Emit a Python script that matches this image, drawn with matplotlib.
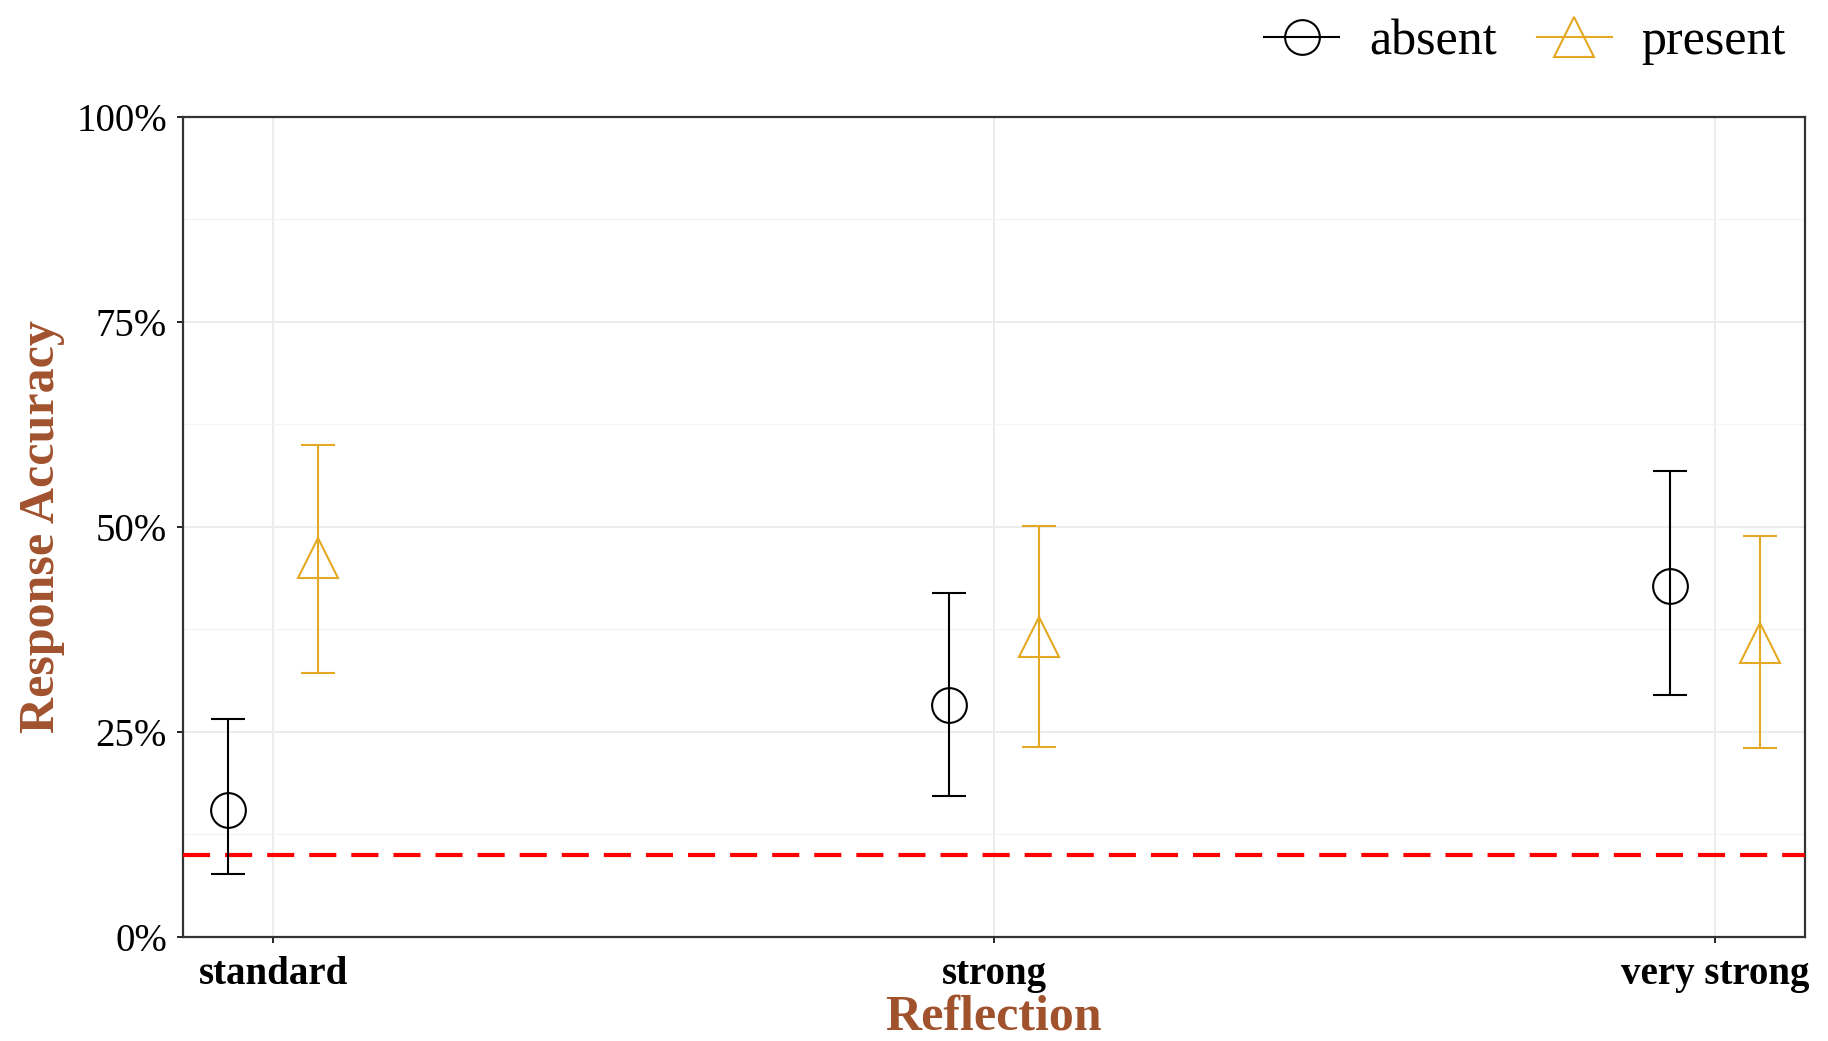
import numpy as np
import matplotlib.pyplot as plt
from matplotlib.lines import Line2D
from matplotlib.ticker import FuncFormatter, MultipleLocator

plt.rcParams['font.family'] = ['Liberation Serif', 'DejaVu Serif']

# dane (w %)
reflection = ['standard', 'strong', 'very strong']
absent_mean = [15.5, 28.3, 42.8]
absent_low = [7.7, 17.2, 29.5]
absent_high = [26.6, 41.9, 56.8]
present_mean = [46.2, 36.6, 35.8]
present_low = [32.2, 23.2, 23.0]
present_high = [60.0, 50.1, 48.9]
chance = 10

absent_col = 'black'
present_col = '#E5A822'
label_col = '#A0522D'

fig = plt.figure(figsize=(18.28, 10.41), dpi=100)
ax = fig.add_axes([183 / 1828, 104 / 1041, 1622 / 1828, 820.4 / 1041])

x = np.arange(1, len(reflection) + 1)
dodge = 0.0625

am = np.array(absent_mean)
pm = np.array(present_mean)
ax.errorbar(x - dodge, am, yerr=[am - np.array(absent_low), np.array(absent_high) - am],
            fmt='o', ms=25, mfc='none', mec=absent_col, mew=1.5, ecolor=absent_col,
            elinewidth=1.5, capsize=12.5, capthick=1.5, zorder=4)
ax.errorbar(x + dodge, pm, yerr=[pm - np.array(present_low), np.array(present_high) - pm],
            fmt='^', ms=29, mfc='none', mec=present_col, mew=1.5, ecolor=present_col,
            elinewidth=1.5, capsize=12.5, capthick=1.5, zorder=4)

ax.axhline(chance, color='red', ls=(0, (6.5, 3.6)), lw=3, zorder=3)

ax.set_xlim(0.875, 3.125)
ax.set_ylim(0, 100)
ax.set_xticks(x)
ax.set_xticklabels(reflection, fontsize=28, fontweight='bold')
ax.yaxis.set_major_locator(MultipleLocator(25))
ax.yaxis.set_minor_locator(MultipleLocator(12.5))
ax.yaxis.set_major_formatter(FuncFormatter(lambda v, p: '%d%%' % v))
ax.tick_params(axis='y', labelsize=28, length=4.5, width=1.2, pad=7)
ax.tick_params(axis='x', length=4.5, width=1.2, pad=9)
ax.tick_params(axis='y', which='minor', length=0)

ax.grid(which='major', color='#EBEBEB', lw=1.3, zorder=0)
ax.grid(which='minor', axis='y', color='#F3F3F3', lw=0.8, zorder=0)
ax.set_axisbelow(True)
for s in ax.spines.values():
    s.set_color('#333333')
    s.set_linewidth(1.6)

fig.text(42 / 1828, 1 - 527 / 1041, 'Response Accuracy', rotation=90, ha='center', va='center',
         fontsize=36, fontweight='bold', color=label_col)
fig.text(994 / 1828, 0.011, 'Reflection', ha='center', va='baseline',
         fontsize=36, fontweight='bold', color=label_col)

handles = [
    Line2D([], [], color=absent_col, marker='o', ms=25, mfc='none', mew=1.5, lw=1.5),
    Line2D([], [], color=present_col, marker='^', ms=29, mfc='none', mew=1.5, lw=1.5),
]
fig.legend(handles, ['absent', 'present'], loc='center right', bbox_to_anchor=(1786 / 1828, 1 - 42 / 1041),
           ncol=2, frameon=False, fontsize=36, handlelength=1.5, handletextpad=0.6,
           columnspacing=0.8, borderpad=0, borderaxespad=0)

fig.savefig('out.png', dpi=100)
